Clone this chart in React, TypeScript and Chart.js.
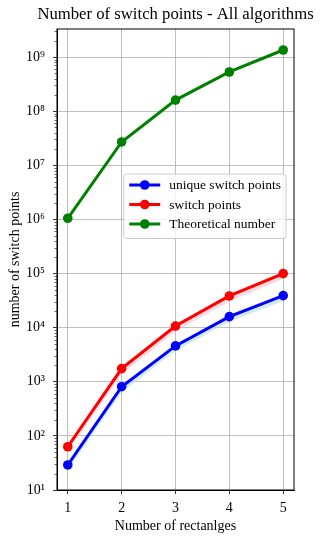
import React, { useEffect, useRef } from 'react';
import { Chart, registerables } from 'chart.js';

Chart.register(...registerables);

const categories = [1, 2, 3, 4, 5];
const uniqueSwitchPoints = [29, 810, 4600, 16000, 39000];
const uniqueLow = [23, 640, 3700, 12800, 31000];
const uniqueHigh = [32, 880, 5000, 17500, 42500];
const switchPoints = [63, 1750, 10700, 38500, 100000];
const switchLow = [50, 1380, 8500, 30500, 79000];
const switchHigh = [69, 1920, 11800, 42000, 109000];
const theoretical = [1050000, 27000000, 160000000, 530000000, 1350000000];
const seriesLabels = ['unique switch points', 'switch points', 'Theoretical number'];
const seriesColors = ['#0000ff', '#ff0000', '#008000'];
const xTickValues = [1, 2, 3, 4, 5];
const yTickValues = [1e1, 1e2, 1e3, 1e4, 1e5, 1e6, 1e7, 1e8, 1e9];
const titleText = 'Number of switch points - All algorithms';
const xTitle = 'Number of rectanlges';
const yTitle = 'number of switch points';

const FONT = "'Liberation Serif', 'DejaVu Serif', serif";
const SUP: Record<string, string> = { '0': '⁰', '1': '¹', '2': '²', '3': '³', '4': '⁴', '5': '⁵', '6': '⁶', '7': '⁷', '8': '⁸', '9': '⁹' };

const pts = (arr: number[]) => arr.map((v, i) => ({ x: categories[i], y: v }));

const decorPlugin = {
  id: 'decor',
  afterDatasetsDraw(chart: any) {
    const ctx = chart.ctx;
    const { left, right, top, bottom } = chart.chartArea;
    const yScale = chart.scales.y;
    ctx.save();
    // title
    ctx.font = `16.7px ${FONT}`;
    ctx.fillStyle = '#000';
    ctx.textAlign = 'center';
    ctx.textBaseline = 'middle';
    ctx.fillText(titleText, (left + right) / 2, top - 14);
    // minor ticks
    ctx.strokeStyle = '#000';
    ctx.lineWidth = 0.6;
    for (let d = 1; d <= 1e10; d *= 10) {
      for (let k = 2; k <= 9; k++) {
        const v = k * d;
        if (v < yScale.min || v > yScale.max) continue;
        const py = Math.round(yScale.getPixelForValue(v)) + 0.5;
        ctx.beginPath();
        ctx.moveTo(left - 2.5, py);
        ctx.lineTo(left, py);
        ctx.stroke();
      }
    }
    // frame
    ctx.lineWidth = 1;
    ctx.strokeStyle = '#000';
    ctx.strokeRect(left, top, right - left, bottom - top);

    // legend
    const fs = 13.5;
    ctx.font = `${fs}px ${FONT}`;
    const maxW = Math.max(...seriesLabels.map((t) => ctx.measureText(t).width));
    const boxW = 5.5 + 31 + 9 + maxW + 5;
    const rowH = 19.5;
    const boxH = rowH * seriesLabels.length + 6;
    const bx = right - 8 - boxW;
    const by = top + 145;
    ctx.beginPath();
    ctx.roundRect(bx, by, boxW, boxH, 3);
    ctx.fillStyle = 'rgba(255,255,255,0.8)';
    ctx.fill();
    ctx.strokeStyle = '#cccccc';
    ctx.lineWidth = 1;
    ctx.stroke();
    seriesLabels.forEach((lab, i) => {
      const cy = by + 11 + i * rowH;
      const lx = bx + 5.5;
      ctx.strokeStyle = seriesColors[i];
      ctx.lineWidth = 3;
      ctx.beginPath();
      ctx.moveTo(lx, cy);
      ctx.lineTo(lx + 31, cy);
      ctx.stroke();
      ctx.fillStyle = seriesColors[i];
      ctx.beginPath();
      ctx.arc(lx + 15.5, cy, 4.8, 0, Math.PI * 2);
      ctx.fill();
      ctx.fillStyle = '#000';
      ctx.textBaseline = 'middle';
      ctx.textAlign = 'left';
      ctx.fillText(lab, lx + 40, cy + 0.5);
    });
    ctx.restore();
  },
};

export default function App() {
  const ref = useRef<HTMLCanvasElement | null>(null);
  useEffect(() => {
    if (!ref.current) return;
    const band = (data: number[], color: string, fill: any) => ({
      label: '_band',
      data: pts(data),
      fill,
      backgroundColor: color,
      borderColor: 'transparent',
      borderWidth: 0,
      pointRadius: 0,
      order: 10,
    });
    const line = (data: number[], i: number, order: number) => ({
      label: seriesLabels[i],
      data: pts(data),
      borderColor: seriesColors[i],
      backgroundColor: seriesColors[i],
      borderWidth: 3,
      pointRadius: 4.8,
      pointBorderWidth: 0,
      fill: false,
      order,
    });
    const tickFont = { family: FONT, size: 14 };
    const chart = new Chart(ref.current, {
      type: 'line',
      data: {
        datasets: [
          band(uniqueHigh, 'rgba(173,216,230,0.55)', '+1'),
          band(uniqueLow, 'transparent', false),
          band(switchHigh, 'rgba(255,182,193,0.5)', '+1'),
          band(switchLow, 'transparent', false),
          line(uniqueSwitchPoints, 0, 3),
          line(switchPoints, 1, 2),
          line(theoretical, 2, 1),
        ] as any,
      },
      options: {
        animation: false,
        responsive: false,
        layout: { padding: { left: 0, right: 28, top: 29, bottom: 0 } },
        plugins: {
          legend: { display: false },
          tooltip: { enabled: false },
          title: { display: false },
        },
        scales: {
          x: {
            type: 'linear',
            min: 0.8,
            max: 5.2,
            afterBuildTicks: (s: any) => {
              s.ticks = xTickValues.map((v) => ({ value: v }));
            },
            afterFit: (s: any) => {
              s.height = 51;
            },
            ticks: { color: '#000', font: tickFont, padding: 6, callback: (v: any) => String(v) },
            grid: { color: '#b0b0b0', lineWidth: 0.8, tickColor: '#000', tickLength: 4, tickWidth: 0.8 },
            border: { color: '#000', width: 1 },
            title: { display: true, text: xTitle, color: '#000', font: tickFont, padding: { top: 0, bottom: 6 } },
          },
          y: {
            type: 'logarithmic',
            min: 10,
            max: 3.3e9,
            afterBuildTicks: (s: any) => {
              s.ticks = yTickValues.map((v) => ({ value: v }));
            },
            afterFit: (s: any) => {
              s.width = 57;
            },
            ticks: {
              color: '#000',
              font: tickFont,
              padding: 8,
              callback: (v: any) => {
                const e = String(Math.round(Math.log10(Number(v))));
                return '10' + e.split('').map((c) => SUP[c] || c).join('');
              },
            },
            grid: { color: '#b0b0b0', lineWidth: 0.8, tickColor: '#000', tickLength: 4, tickWidth: 0.8 },
            border: { color: '#000', width: 1 },
            title: { display: true, text: yTitle, color: '#000', font: tickFont, padding: { top: 7, bottom: 0 } },
          },
        },
      },
      plugins: [decorPlugin],
    } as any);
    return () => chart.destroy();
  }, []);
  return (
    <div style={{ position: 'fixed', left: 0, top: 0, width: 322, height: 541, background: '#fff' }}>
      <canvas ref={ref} width={322} height={541} style={{ display: 'block' }} />
    </div>
  );
}
